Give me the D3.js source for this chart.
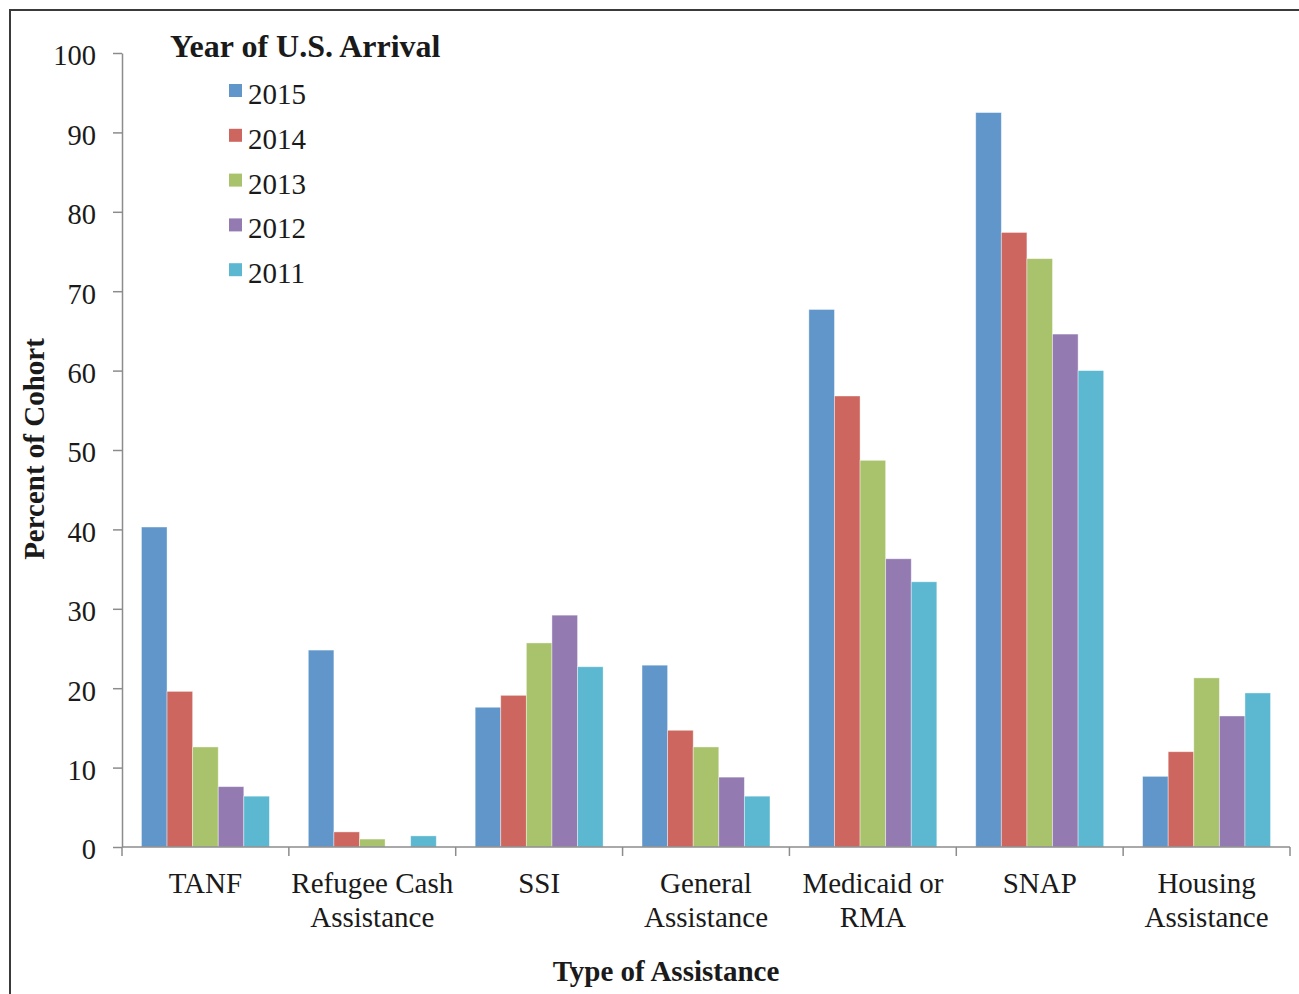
<!DOCTYPE html>
<html>
<head>
<meta charset="utf-8">
<script src="https://cdn.jsdelivr.net/npm/d3@7"></script>
<style>
  body { margin: 0; background: #fff; }
  svg text { font-family: "Liberation Serif", "Times New Roman", serif; fill: #1a1a1a; }
</style>
</head>
<body>
<div id="chart"></div>
<script>
// categories and series
const categories = ["TANF", "Refugee Cash|Assistance", "SSI", "General|Assistance", "Medicaid or|RMA", "SNAP", "Housing|Assistance"];
const years = ["2015", "2014", "2013", "2012", "2011"];
const y2015 = [40.3, 24.8, 17.6, 22.9, 67.7, 92.5, 8.9];
const y2014 = [19.6, 1.9, 19.1, 14.7, 56.8, 77.4, 12.0];
const y2013 = [12.6, 1.0, 25.7, 12.6, 48.7, 74.1, 21.3];
const y2012 = [7.6, 0, 29.2, 8.8, 36.3, 64.6, 16.5];
const y2011 = [6.4, 1.4, 22.7, 6.4, 33.4, 60.0, 19.4];
const yTicks = [0, 10, 20, 30, 40, 50, 60, 70, 80, 90, 100];
const colors = ["#6096ca", "#cc665e", "#a9c36c", "#937bb1", "#5bb8d0"];

const series = [y2015, y2014, y2013, y2012, y2011];

const w = 1299;
const h = 994;
const padL = 122, padR = 1290, padT = 53, padB = 847;

const svg = d3.select("#chart")
    .append("svg")
    .attr("width", w)
    .attr("height", h);

// frame
svg.append("rect")
    .attr("x", 10).attr("y", 10)
    .attr("width", 1320).attr("height", 1020)
    .attr("fill", "none")
    .attr("stroke", "#3a3a3a")
    .attr("stroke-width", 2);

const x0 = d3.scaleBand()
    .domain(categories)
    .range([padL, padR])
    .padding(0);

const x1 = d3.scaleBand()
    .domain(years)
    .range([0, x0.bandwidth()])
    .paddingInner(0)
    .paddingOuter(0.76);

const yScale = d3.scaleLinear()
    .domain([0, 100])
    .range([padB, padT]);

// y axis
const yAxis = d3.axisLeft(yScale)
    .tickValues(yTicks)
    .tickSize(9)
    .tickSizeOuter(0)
    .tickPadding(17);

const gy = svg.append("g")
    .attr("transform", "translate(" + padL + ",0)")
    .call(yAxis);
gy.select(".domain").attr("stroke", "#8c8c8c").attr("stroke-width", 1.5);
gy.selectAll(".tick line").attr("stroke", "#8c8c8c").attr("stroke-width", 1.5);
gy.selectAll(".tick text")
    .attr("dy", "0.42em")
    .style("font-size", "28.5px")
    .style("font-family", "Liberation Serif");

// bars
categories.forEach((c, ci) => {
    svg.append("g")
        .selectAll("rect")
        .data(years)
        .enter()
        .append("rect")
        .attr("x", (d) => x0(c) + x1(d))
        .attr("y", (d, i) => yScale(series[i][ci]))
        .attr("width", x1.bandwidth())
        .attr("height", (d, i) => padB - yScale(series[i][ci]))
        .attr("fill", (d, i) => colors[i])
        .attr("stroke", "#ffffff")
        .attr("stroke-opacity", 0.5)
        .attr("stroke-width", 0.8);
});

// x axis line + boundary ticks
svg.append("line")
    .attr("x1", padL).attr("x2", padR)
    .attr("y1", padB).attr("y2", padB)
    .attr("stroke", "#8c8c8c").attr("stroke-width", 1.5);

const bounds = categories.map((c) => x0(c)).concat([padR]);
svg.selectAll(".xtick")
    .data(bounds)
    .enter()
    .append("line")
    .attr("class", "xtick")
    .attr("x1", (d) => d).attr("x2", (d) => d)
    .attr("y1", padB).attr("y2", padB + 9)
    .attr("stroke", "#8c8c8c").attr("stroke-width", 1.5);

// category labels (two lines)
const lab = svg.selectAll(".xlab")
    .data(categories)
    .enter()
    .append("text")
    .attr("class", "xlab")
    .attr("text-anchor", "middle")
    .style("font-size", "29px")
    .attr("x", (d) => x0(d) + x0.bandwidth() / 2)
    .attr("y", 893);

lab.each(function(d) {
    const parts = d.split("|");
    const t = d3.select(this);
    parts.forEach((p, i) => {
        t.append("tspan")
            .attr("x", x0(d) + x0.bandwidth() / 2)
            .attr("dy", i === 0 ? 0 : 34)
            .text(p);
    });
});

// axis titles
svg.append("text")
    .text("Type of Assistance")
    .attr("text-anchor", "middle")
    .attr("x", 666)
    .attr("y", 981)
    .style("font-size", "29px")
    .style("font-weight", "bold");

svg.append("text")
    .text("Percent of Cohort")
    .attr("text-anchor", "middle")
    .attr("transform", "rotate(-90)")
    .attr("x", -449)
    .attr("y", 44)
    .style("font-size", "29px")
    .style("font-weight", "bold");

// legend
svg.append("text")
    .text("Year of U.S. Arrival")
    .attr("x", 170)
    .attr("y", 57)
    .style("font-size", "32px")
    .style("font-weight", "bold");

const leg = svg.selectAll(".leg")
    .data(years)
    .enter()
    .append("g")
    .attr("class", "leg")
    .attr("transform", (d, i) => "translate(229," + (90.5 + i * 44.8) + ")");

leg.append("rect")
    .attr("x", 0).attr("y", -6.5)
    .attr("width", 13).attr("height", 13)
    .attr("fill", (d, i) => colors[i]);

leg.append("text")
    .attr("x", 19)
    .attr("y", 13.5)
    .style("font-size", "29px")
    .text((d) => d);
</script>
</body>
</html>
